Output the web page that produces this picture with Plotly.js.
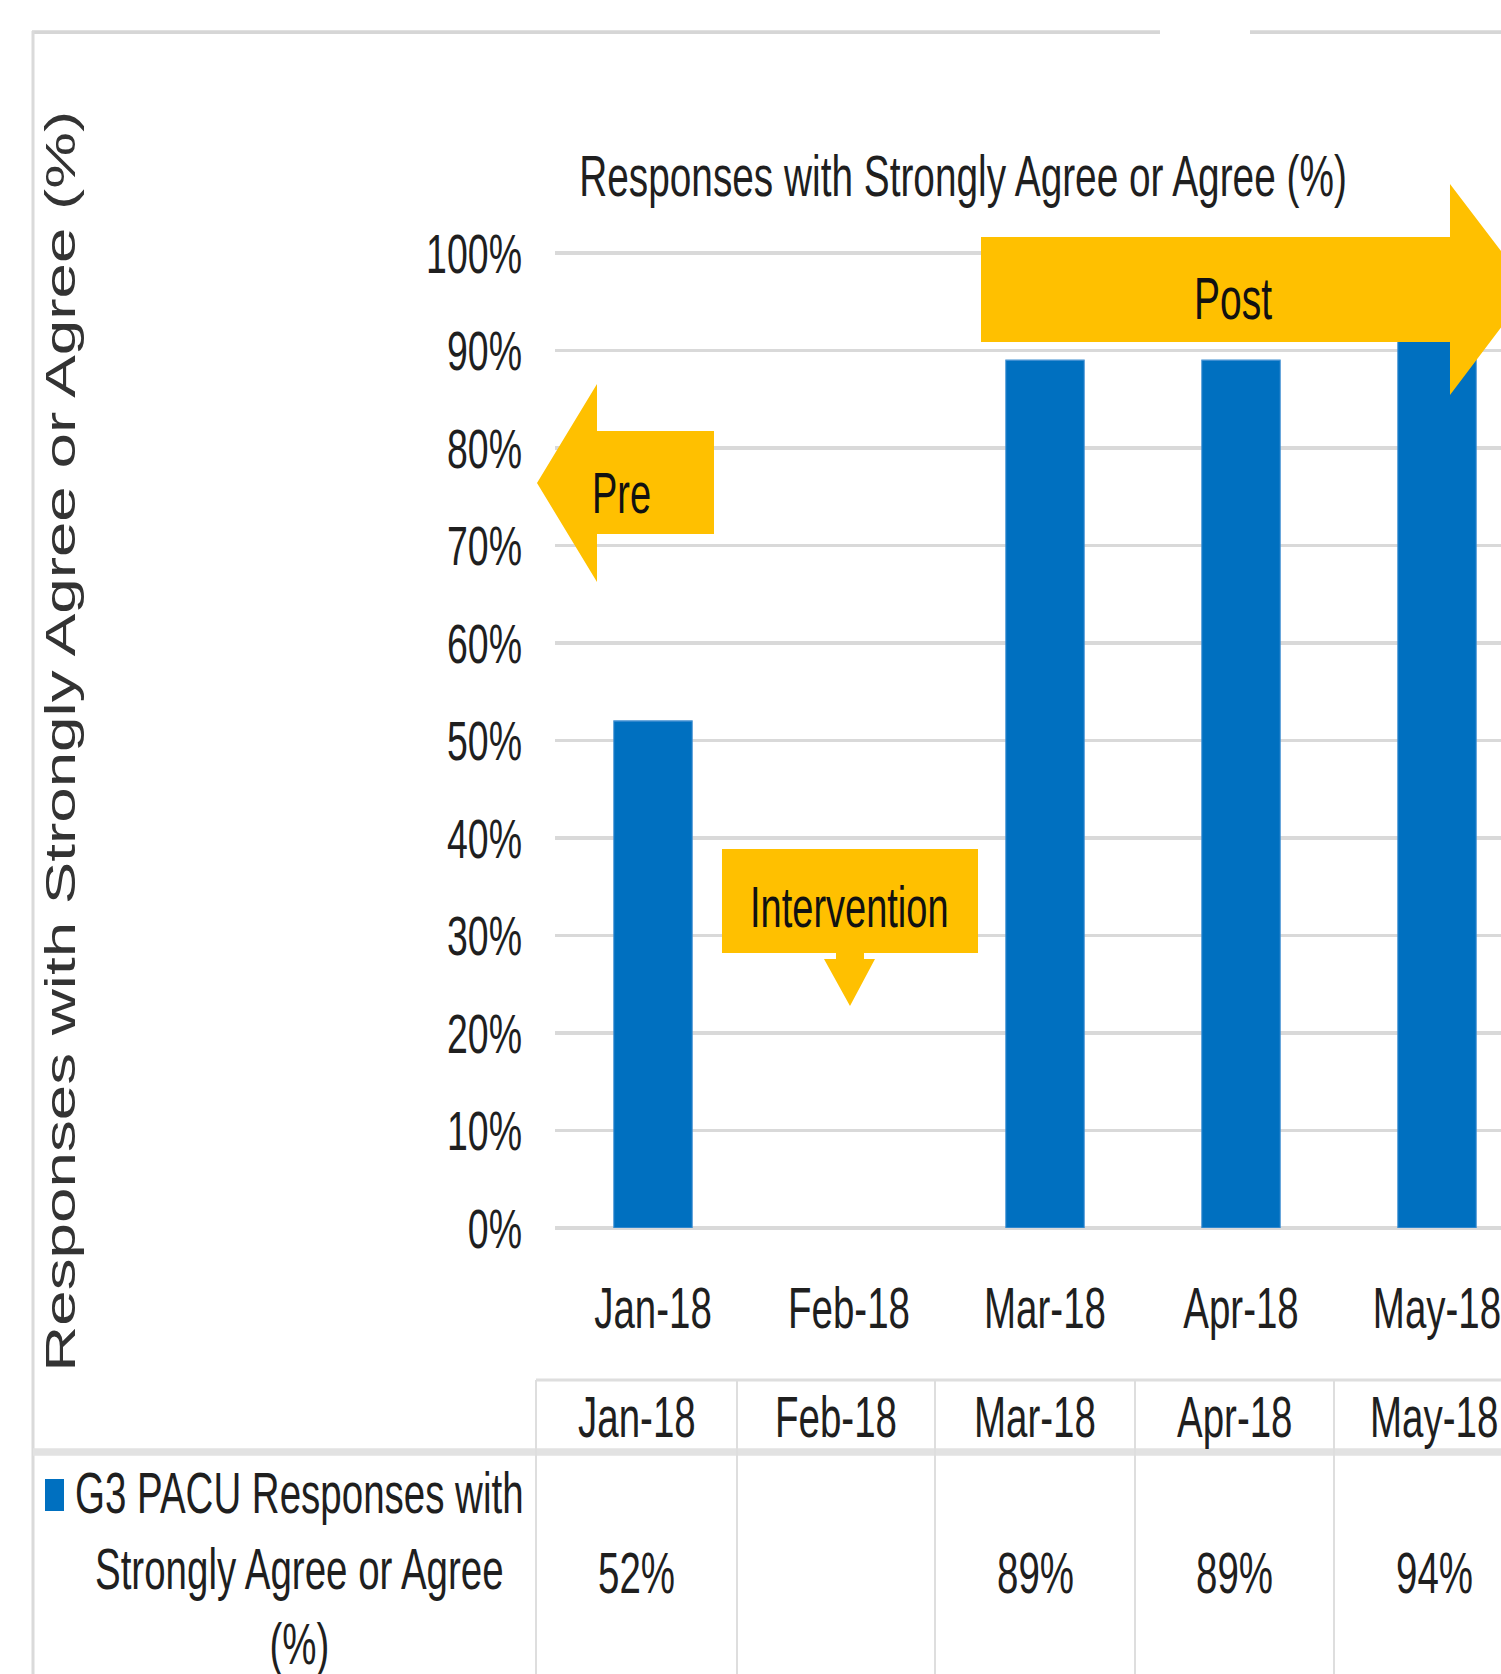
<!DOCTYPE html>
<html>
<head>
<meta charset="utf-8">
<script src="https://cdn.plot.ly/plotly-3.0.1.min.js"></script>
<style>
  html, body { margin: 0; padding: 0; background: #ffffff; width: 1501px; height: 1674px; overflow: hidden; }
  #wrap { position: relative; width: 1501px; height: 1674px; }
  #chart { position: absolute; left: 0; top: 0; width: 1501px; height: 1116px; transform: scaleY(1.5); transform-origin: 0 0; }
</style>
</head>
<body>
<div id="wrap"><div id="chart"></div></div>
<script>
// ---- data ----
const categories = ['Jan-18', 'Feb-18', 'Mar-18', 'Apr-18', 'May-18'];
const values = [0.52, null, 0.89, 0.89, 0.94];
const yTickVals = [0, 0.1, 0.2, 0.3, 0.4, 0.5, 0.6, 0.7, 0.8, 0.9, 1.0];
const seriesLines = ['G3 PACU Responses with', 'Strongly Agree or Agree', '(%)'];
const chartTitle = 'Responses with Strongly Agree or Agree (%)';
const yAxisTitle = 'Responses with Strongly Agree or Agree (%)';
const phaseLabels = ['Pre', 'Intervention', 'Post'];

// ---- geometry helpers (full-image pixels -> paper) ----
const W = 1501, H = 1674;
const X = p => p / W;
const Y = p => 1 - p / H;
const path = pts => 'M ' + pts.map(([a, b]) => X(a).toFixed(5) + ',' + Y(b).toFixed(5)).join(' L ') + ' Z';

const FONT = 'Liberation Sans, Arial, Helvetica, sans-serif';
const TXT = '#1f1f1f';
const GRID = '#d9d9d9';
const BLUE = '#0070C0';
const GOLD = '#FFC000';

const zeroPx = 1228, unitPx = 975;
const yTopVal = 1.05;

const shapes = [];
const annotations = [];

// outer frame
shapes.push({type: 'line', xref: 'paper', yref: 'paper', x0: X(32), x1: X(1160), y0: Y(32), y1: Y(32), line: {color: '#d6d6d6', width: 2.5}});
shapes.push({type: 'line', xref: 'paper', yref: 'paper', x0: X(1250), x1: X(1501), y0: Y(32), y1: Y(32), line: {color: '#d6d6d6', width: 2.5}});
shapes.push({type: 'line', xref: 'paper', yref: 'paper', x0: X(33), x1: X(33), y0: Y(31), y1: Y(1674), line: {color: '#dadada', width: 3}});

// phase arrows
shapes.push({type: 'path', xref: 'paper', yref: 'paper', layer: 'above', fillcolor: GOLD, line: {width: 0},
  path: path([[714, 431], [597, 431], [597, 384], [537, 483], [597, 582], [597, 534], [714, 534]])});
shapes.push({type: 'path', xref: 'paper', yref: 'paper', layer: 'above', fillcolor: GOLD, line: {width: 0},
  path: path([[722, 849], [978, 849], [978, 953], [864, 953], [864, 959], [875, 959], [850, 1006], [824, 959], [836, 959], [836, 953], [722, 953]])});
shapes.push({type: 'path', xref: 'paper', yref: 'paper', layer: 'above', fillcolor: GOLD, line: {width: 0},
  path: path([[981, 237], [1450, 237], [1450, 184], [1530, 289], [1450, 395], [1450, 342], [981, 342]])});

annotations.push({xref: 'paper', yref: 'paper', x: X(621), y: Y(493), text: phaseLabels[0], showarrow: false, xanchor: 'center', yanchor: 'middle', font: {family: FONT, size: 38, color: '#111'}});
annotations.push({xref: 'paper', yref: 'paper', x: X(850), y: Y(907), text: phaseLabels[1], showarrow: false, xanchor: 'center', yanchor: 'middle', font: {family: FONT, size: 38, color: '#111'}});
annotations.push({xref: 'paper', yref: 'paper', x: X(1233), y: Y(299), text: phaseLabels[2], showarrow: false, xanchor: 'center', yanchor: 'middle', font: {family: FONT, size: 39, color: '#111'}});

// y-axis title
annotations.push({xref: 'paper', yref: 'paper', x: X(61), y: Y(742), text: yAxisTitle, textangle: -90, showarrow: false, xanchor: 'center', yanchor: 'middle', font: {family: FONT, size: 42.5, color: '#333'}});

// data table
const colEdges = [536, 737, 935, 1135, 1334, 1534];
const headTop = 1380, headBottom = 1452;
shapes.push({type: 'line', xref: 'paper', yref: 'paper', x0: X(536), x1: X(1501), y0: Y(headTop), y1: Y(headTop), line: {color: '#dedede', width: 2}});
shapes.push({type: 'line', xref: 'paper', yref: 'paper', x0: X(33), x1: X(1501), y0: Y(headBottom), y1: Y(headBottom), line: {color: '#e2e2e2', width: 5}});
colEdges.slice(0, 5).forEach(e => {
  shapes.push({type: 'line', xref: 'paper', yref: 'paper', x0: X(e), x1: X(e), y0: Y(headTop), y1: Y(1674), line: {color: '#dedede', width: 2}});
});
categories.forEach((c, i) => {
  const cx = (colEdges[i] + colEdges[i + 1]) / 2;
  annotations.push({xref: 'paper', yref: 'paper', x: X(cx), y: Y(1417), text: c, showarrow: false, xanchor: 'center', yanchor: 'middle', font: {family: FONT, size: 38.5, color: TXT}});
  if (values[i] !== null) {
    annotations.push({xref: 'paper', yref: 'paper', x: X(cx), y: Y(1572), text: Math.round(values[i] * 100) + '%', showarrow: false, xanchor: 'center', yanchor: 'middle', font: {family: FONT, size: 38.5, color: TXT}});
  }
});
// legend key + series name
shapes.push({type: 'rect', xref: 'paper', yref: 'paper', x0: X(45), x1: X(64), y0: Y(1479), y1: Y(1511), fillcolor: BLUE, line: {width: 0}});
annotations.push({xref: 'paper', yref: 'paper', x: X(299), y: Y(1568), text: seriesLines.join('<br>'), align: 'center', showarrow: false, xanchor: 'center', yanchor: 'middle', font: {family: FONT, size: 38.5, color: TXT}});

const trace = {
  type: 'bar',
  x: categories,
  y: values,
  width: 0.4,
  marker: {color: BLUE, line: {color: '#3f8fd2', width: 1}},
  hoverinfo: 'skip',
  showlegend: false
};

const layout = {
  width: 1501,
  height: 1116,
  autosize: false,
  margin: {l: 0, r: 0, t: 0, b: 0, pad: 0},
  paper_bgcolor: 'rgba(0,0,0,0)',
  plot_bgcolor: 'rgba(0,0,0,0)',
  showlegend: false,
  title: {
    text: chartTitle,
    xref: 'paper', yref: 'paper',
    x: X(963), y: Y(176), xanchor: 'center', yanchor: 'middle',
    font: {family: FONT, size: 38.8, color: TXT}
  },
  xaxis: {
    type: 'category',
    domain: [X(555), 1],
    range: [-0.5, -0.5 + (1501 - 555) / 196],
    showgrid: false, zeroline: false, showline: false,
    ticks: '',
    ticklabelstandoff: 27,
    tickfont: {family: FONT, size: 38.5, color: TXT},
    fixedrange: true
  },
  yaxis: {
    domain: [Y(zeroPx), Y(zeroPx - yTopVal * unitPx)],
    range: [0, yTopVal],
    tickvals: yTickVals,
    tickformat: '.0%',
    showgrid: true, gridcolor: GRID, gridwidth: 2.5,
    zeroline: true, zerolinecolor: GRID, zerolinewidth: 3,
    showline: false,
    ticks: '',
    ticklabelstandoff: 32,
    tickfont: {family: FONT, size: 37.5, color: TXT},
    fixedrange: true
  },
  shapes: shapes,
  annotations: annotations
};

Plotly.newPlot('chart', [trace], layout, {staticPlot: true, displayModeBar: false});
</script>
</body>
</html>
